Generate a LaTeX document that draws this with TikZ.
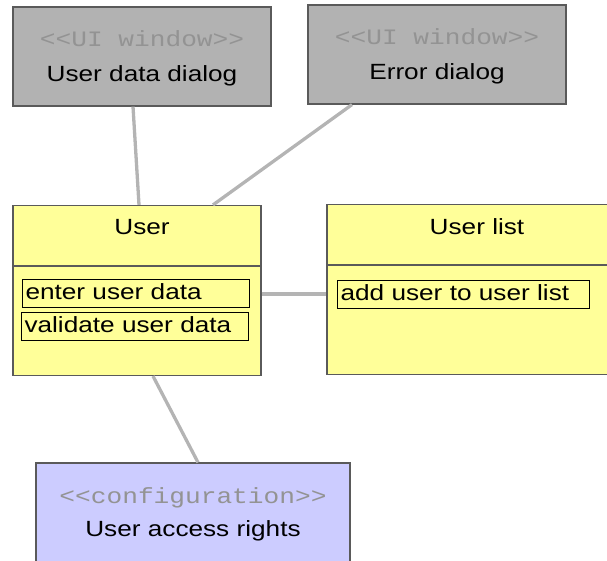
\documentclass[tikz,border=0pt]{standalone}
\usepackage{fontspec}
\setmainfont{Liberation Sans}[FakeStretch=1.19]
\setmonofont{Liberation Mono}[FakeStretch=1.19]
\usepackage{xcolor}
\definecolor{umlgray}{HTML}{B2B2B2}
\definecolor{umlyellow}{HTML}{FFFF99}
\definecolor{umlviolet}{HTML}{CCCCFF}
\definecolor{umlborder}{HTML}{5A5A5A}
\definecolor{umlline}{HTML}{B4B4B4}
\definecolor{umlstereo}{HTML}{939393}
\usepackage{tikz}
\usetikzlibrary{calc}
\tikzset{
  uibox/.style={
    draw=umlborder, fill=umlgray, line width=1.2pt,
    minimum width=258pt, minimum height=99pt, inner sep=0pt
  },
  classbox/.style={
    draw=umlborder, fill=umlyellow, line width=1.2pt,
    minimum height=170pt, inner sep=0pt
  },
  confbox/.style={
    draw=umlborder, fill=umlviolet, line width=1.2pt,
    minimum width=314pt, minimum height=99pt, inner sep=0pt
  },
  stereo/.style={
    anchor=base, inner sep=0pt, text=umlstereo,
    font=\fontsize{22}{26}\selectfont\ttfamily
  },
  nametext/.style={
    anchor=base, inner sep=0pt, font=\fontsize{22}{26}\selectfont
  },
  opbox/.style={
    draw=black, line width=1pt, anchor=north west,
    text width=#1, align=left, inner xsep=3pt, inner ysep=0pt,
    minimum height=27.5pt, text height=16pt, text depth=4pt,
    font=\fontsize{22}{26}\selectfont
  },
  umllink/.style={draw=umlline, line width=3.3pt}
}

\begin{document}
\begin{tikzpicture}[x=1pt, y=-1pt]
  \useasboundingbox (0,0) rectangle (607,561);
  \clip (0,0) rectangle (607,561);

  % windows
  \node[uibox] (udd) at (142,56.5) {};
  \node[stereo]   (uddst) at (142,46.5) {<<UI window>>};
  \node[nametext] (uddnm) at (142,81.5) {User data dialog};

  \node[uibox] (err) at (437,54.5) {};
  \node[stereo]   (errst) at (437,45) {<<UI window>>};
  \node[nametext] (errnm) at (437,80) {Error dialog};

  % classes
  \node[classbox, minimum width=248pt] (user) at (137,290.5) {};
  \node[nametext] (usernm) at (142,235) {User};
  \draw[umlborder, line width=1.2pt] (user.west |- 0,266) -- (user.east |- 0,266);
  \node[opbox=221pt] (openter) at (22,279) {enter user data};
  \node[opbox=221pt] (opvalid) at (21,312) {validate user data};

  \node[classbox, minimum width=300pt] (ulist) at (477,289.5) {};
  \node[nametext] (ulistnm) at (477,235) {User list};
  \draw[umlborder, line width=1.2pt] (ulist.west |- 0,265) -- (ulist.east |- 0,265);
  \node[opbox=246pt] (opadd) at (337,280) {add user to user list};

  % configuration
  \node[confbox] (conf) at (193,512.5) {};
  \node[stereo]   (confst) at (193,503) {<<configuration>>};
  \node[nametext] (confnm) at (193,536) {User access rights};

  % links
  \draw[umllink] ([xshift=-9pt]udd.south) -- ([xshift=2pt]user.north);
  \draw[umllink] ([xshift=-85pt]err.south) -- ([xshift=76pt]user.north);
  \draw[umllink] ([yshift=-3.5pt]user.east) -- ([yshift=-4.5pt]ulist.west);
  \draw[umllink] ([xshift=16pt]user.south) -- ([xshift=5pt]conf.north);
\end{tikzpicture}
\end{document}
